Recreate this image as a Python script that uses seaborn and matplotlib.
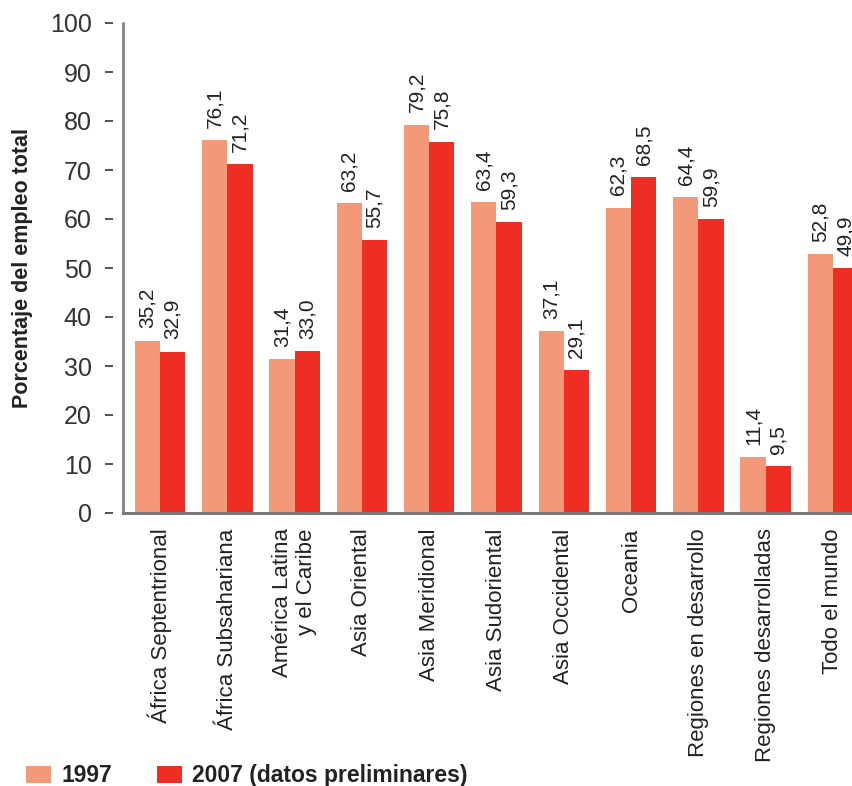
import matplotlib
matplotlib.use("Agg")
import matplotlib.pyplot as plt
from matplotlib.patches import Patch
import pandas as pd
import seaborn as sns

regiones = [
    "África Septentrional",
    "África Subsahariana",
    "América Latina\ny el Caribe",
    "Asia Oriental",
    "Asia Meridional",
    "Asia Sudoriental",
    "Asia Occidental",
    "Oceania",
    "Regiones en desarrollo",
    "Regiones desarrolladas",
    "Todo el mundo",
]
valores_1997 = [35.2, 76.1, 31.4, 63.2, 79.2, 63.4, 37.1, 62.3, 64.4, 11.4, 52.8]
valores_2007 = [32.9, 71.2, 33.0, 55.7, 75.8, 59.3, 29.1, 68.5, 59.9, 9.5, 49.9]
series = ["1997", "2007 (datos preliminares)"]
colores = ["#F4987A", "#EE2D24"]

df = pd.DataFrame({
    "region": regiones * 2,
    "valor": valores_1997 + valores_2007,
    "serie": [series[0]] * len(regiones) + [series[1]] * len(regiones),
})

sns.set_theme(style="white")
plt.rcParams["font.family"] = ["Liberation Sans", "DejaVu Sans"]

W, H = 852, 786
fig = plt.figure(figsize=(W / 100, H / 100), dpi=100)
ax = fig.add_axes([123 / W, 273 / H, 747 / W, 490 / H])

sns.barplot(data=df, x="region", y="valor", hue="serie", palette=colores,
            width=0.75, saturation=1, linewidth=0, legend=False, ax=ax)

ax.set_xlim(-0.55, 10.55)
ax.set_ylim(0, 100)
ax.set_yticks(range(0, 101, 10))
ax.set_xlabel("")

# value labels above each bar, rotated
for cont, vals in zip(ax.containers, [valores_1997, valores_2007]):
    ax.bar_label(cont, labels=[f"{v:.1f}".replace(".", ",") for v in vals],
                 rotation=90, padding=9, fontsize=15, color="#222222")

# axes styling
for side in ["top", "right"]:
    ax.spines[side].set_visible(False)
ax.spines["left"].set_position(("outward", 7))
ax.spines["left"].set_color("none")
ax.spines["bottom"].set_color("#7a7a7a")
ax.spines["bottom"].set_linewidth(2.2)
ax.axvline(-0.55, ymin=0, ymax=1, color="#8a8a8a", lw=2.2, clip_on=False)

ax.tick_params(axis="y", left=True, direction="out", length=5.5, width=1.2,
               color="#333333", pad=10, labelsize=18, labelcolor="#333333")
ax.tick_params(axis="x", bottom=False, pad=5, labelsize=16, labelcolor="#222222")
for lab in ax.get_xticklabels():
    lab.set_rotation(90)
    lab.set_ha("center")
    lab.set_va("top")
    lab.set_multialignment("right")

ax.set_ylabel("Porcentaje del empleo total", fontsize=15.5, fontweight="bold",
              color="#222222")
ax.yaxis.set_label_coords((33 - 123) / 747, 0.5)

handles = [Patch(facecolor=c, edgecolor="none") for c in colores]
fig.legend(handles, series, loc="lower left", bbox_to_anchor=(5 / W, -22 / H),
           ncol=2, frameon=False, prop={"weight": "bold", "size": 16.5},
           handlelength=1.1, handleheight=0.8, handletextpad=0.45,
           columnspacing=1.95, labelcolor="#222222")

fig.savefig("out.png", dpi=100)
